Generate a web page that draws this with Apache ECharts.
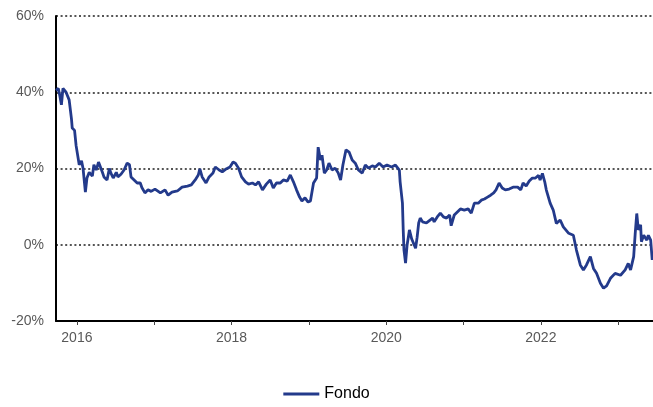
<!DOCTYPE html>
<html>
<head>
<meta charset="utf-8">
<script src="https://cdn.jsdelivr.net/npm/echarts@6/dist/echarts.min.js"></script>
<style>
  html, body { margin: 0; padding: 0; background: #fff; }
  #plot { width: 653px; height: 407px; }
</style>
</head>
<body>
<div id="plot"></div>
<script>
// fechas en años decimales, valores en %
var years = [
  2015.73, 2015.76, 2015.78, 2015.80, 2015.82, 2015.86, 2015.90, 2015.93, 2015.94, 2015.97,
  2015.99, 2016.03, 2016.06, 2016.08, 2016.11, 2016.13, 2016.16, 2016.20, 2016.22, 2016.25,
  2016.28, 2016.30, 2016.33, 2016.35, 2016.39, 2016.42, 2016.44, 2016.47, 2016.51, 2016.53,
  2016.57, 2016.61, 2016.65, 2016.68, 2016.70, 2016.74, 2016.78, 2016.82, 2016.84, 2016.88,
  2016.92, 2016.96, 2017.01, 2017.08, 2017.14, 2017.18, 2017.23, 2017.30, 2017.36, 2017.43,
  2017.48, 2017.53, 2017.57, 2017.59, 2017.62, 2017.67, 2017.71, 2017.76, 2017.79, 2017.84,
  2017.88, 2017.93, 2017.98, 2018.02, 2018.05, 2018.09, 2018.13, 2018.18, 2018.22, 2018.27,
  2018.31, 2018.35, 2018.40, 2018.45, 2018.50, 2018.54, 2018.58, 2018.63, 2018.67, 2018.72,
  2018.76, 2018.80, 2018.84, 2018.88, 2018.91, 2018.95, 2018.99, 2019.02, 2019.06, 2019.10,
  2019.12, 2019.15, 2019.17, 2019.20, 2019.23, 2019.26, 2019.30, 2019.34, 2019.38, 2019.41,
  2019.44, 2019.48, 2019.52, 2019.56, 2019.60, 2019.64, 2019.69, 2019.73, 2019.77, 2019.82,
  2019.86, 2019.91, 2019.96, 2020.01, 2020.07, 2020.12, 2020.14, 2020.17, 2020.18, 2020.21,
  2020.22, 2020.23, 2020.25, 2020.27, 2020.29, 2020.30, 2020.33, 2020.35, 2020.38, 2020.40,
  2020.42, 2020.44, 2020.47, 2020.49, 2020.52, 2020.55, 2020.57, 2020.60, 2020.62, 2020.66,
  2020.70, 2020.74, 2020.78, 2020.82, 2020.84, 2020.88, 2020.92, 2020.96, 2021.01, 2021.06,
  2021.10, 2021.14, 2021.19, 2021.23, 2021.27, 2021.31, 2021.35, 2021.39, 2021.42, 2021.46,
  2021.50, 2021.54, 2021.59, 2021.64, 2021.70, 2021.74, 2021.77, 2021.81, 2021.85, 2021.89,
  2021.93, 2021.97, 2021.99, 2022.02, 2022.05, 2022.07, 2022.12, 2022.16, 2022.20, 2022.25,
  2022.29, 2022.36, 2022.42, 2022.46, 2022.51, 2022.55, 2022.59, 2022.64, 2022.68, 2022.72,
  2022.77, 2022.81, 2022.85, 2022.90, 2022.96, 2023.03, 2023.09, 2023.13, 2023.16, 2023.20,
  2023.22, 2023.24, 2023.26, 2023.29, 2023.30, 2023.33, 2023.37, 2023.39, 2023.42, 2023.44
];

var fondo = [
  40.5, 41.0, 39.0, 36.7, 41.0, 40.0, 38.0, 33.0, 30.6, 30.0,
  26.0, 21.0, 22.0, 20.0, 13.8, 17.5, 19.0, 18.0, 21.0, 19.6,
  21.7, 22.0, 19.0, 17.8, 17.0, 20.0, 18.8, 17.5, 19.0, 17.8,
  18.5, 19.6, 21.4, 21.0, 17.8, 17.0, 16.2, 16.2, 15.0, 13.6,
  14.4, 14.0, 14.6, 13.6, 14.4, 13.0, 13.8, 14.1, 15.1, 15.4,
  15.7, 17.0, 18.3, 19.9, 17.8, 16.2, 17.8, 18.8, 20.4, 19.6,
  19.1, 19.9, 20.4, 21.7, 21.4, 20.1, 17.8, 16.5, 15.9, 16.2,
  15.7, 16.5, 14.4, 15.9, 17.0, 14.9, 16.2, 16.2, 17.0, 16.7,
  18.3, 16.5, 14.4, 12.5, 11.5, 12.3, 11.2, 11.5, 16.2, 17.5,
  25.6, 22.2, 23.5, 18.8, 19.6, 21.4, 19.6, 20.1, 18.8, 17.0,
  20.9, 24.9, 24.3, 22.2, 21.4, 19.6, 18.8, 20.9, 20.1, 20.7,
  20.4, 21.4, 20.4, 20.9, 20.4, 20.9, 21.4, 19.6, 16.5, 10.9,
  3.9, -1.4, -4.8, -0.1, 2.5, 3.9, 1.5, 1.2, -0.9, 2.0,
  5.7, 7.0, 6.0, 6.2, 5.7, 6.2, 5.7, 7.0, 6.0, 7.3,
  8.3, 7.3, 7.0, 7.8, 5.0, 7.8, 8.6, 9.4, 9.1, 9.4,
  8.3, 10.9, 10.9, 11.7, 12.0, 12.5, 13.0, 13.6, 14.4, 16.2,
  14.9, 14.4, 14.6, 15.1, 15.1, 14.4, 16.2, 15.4, 16.7, 17.5,
  17.5, 18.2, 17.0, 18.7, 16.5, 14.4, 10.9, 9.1, 5.6, 6.5,
  4.7, 3.0, 2.5, -1.4, -5.3, -6.6, -5.3, -3.1, -6.2, -7.5,
  -10.1, -11.4, -10.8, -8.8, -7.5, -8.0, -6.6, -4.9, -6.6, -3.1,
  3.0, 8.2, 3.9, 5.2, 0.8, 2.5, 1.2, 2.5, 1.2, -4.0
];

var tickYears = [2016, 2017, 2018, 2019, 2020, 2021, 2022, 2023];
var labelYears = [2016, 2018, 2020, 2022];
var xMin = 2015.73;
var xMax = 2023.45;

var myChart = echarts.init(document.getElementById('plot'));

var seriesData = years.map(function (y, i) {
  return [y, fondo[i]];
});

var option = {
  animation: false,
  textStyle: { fontFamily: 'Liberation Sans, Arial, sans-serif' },
  grid: { left: 56, right: 0, top: 16, bottom: 86 },
  legend: {
    bottom: 0,
    left: 'center',
    itemWidth: 36,
    itemHeight: 3,
    itemGap: 10,
    icon: 'rect',
    textStyle: { color: '#000', fontSize: 16 },
    data: ['Fondo']
  },
  xAxis: {
    type: 'value',
    min: xMin,
    max: xMax,
    axisLine: { onZero: false, lineStyle: { color: '#000', width: 2 } },
    axisTick: {
      show: true,
      length: 4,
      customValues: tickYears,
      lineStyle: { color: '#444', width: 1 }
    },
    axisLabel: {
      customValues: labelYears,
      color: '#595959',
      fontSize: 14,
      margin: 10,
      formatter: function (v) { return String(Math.round(v)); }
    },
    splitLine: { show: false }
  },
  yAxis: {
    type: 'value',
    min: -20,
    max: 60,
    interval: 20,
    axisLine: { show: true, lineStyle: { color: '#000', width: 2 } },
    axisTick: { show: false },
    axisLabel: {
      color: '#595959',
      fontSize: 14,
      margin: 12,
      formatter: '{value}%'
    },
    splitLine: {
      show: true,
      lineStyle: { color: '#555', width: 2, type: [2, 2.6] }
    }
  },
  series: [{
    name: 'Fondo',
    type: 'line',
    data: seriesData,
    showSymbol: false,
    symbol: 'none',
    lineStyle: { color: '#233a8b', width: 2.8 },
    itemStyle: { color: '#233a8b' }
  }]
};

myChart.setOption(option);
</script>
</body>
</html>
